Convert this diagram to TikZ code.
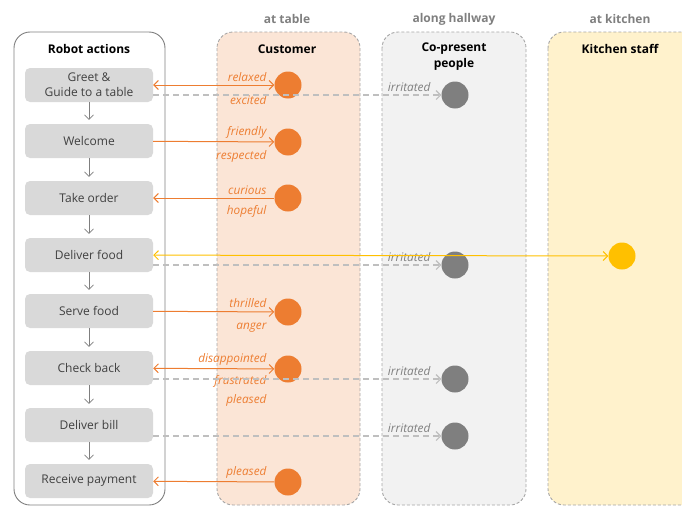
\documentclass[tikz,border=0pt]{standalone}
\usepackage{fontspec}
\setmainfont{Open Sans}
\usetikzlibrary{arrows.meta}
\definecolor{peach}{HTML}{FBE5D6}
\definecolor{hallgrey}{HTML}{F2F2F2}
\definecolor{kitchen}{HTML}{FFF2CC}
\definecolor{orange}{HTML}{ED7D31}
\definecolor{yellow}{HTML}{FFC000}
\definecolor{dotgrey}{HTML}{7F7F7F}
\definecolor{boxgrey}{HTML}{D9D9D9}
\definecolor{lightgrey}{HTML}{BFBFBF}
\definecolor{bordergrey}{HTML}{A6A6A6}
\definecolor{textgrey}{HTML}{404040}

\begin{document}
\begin{tikzpicture}[x=1pt,y=-1pt,>={Straight Barb[length=4.5pt,width=9pt]},
    action/.style={fill=boxgrey, rounded corners=5pt, minimum width=128pt, minimum height=34pt, align=center, text=textgrey, font=\fontsize{12}{15}\selectfont},
    title/.style={font=\bfseries\fontsize{12}{16}\selectfont, align=center},
    place/.style={font=\bfseries\fontsize{12}{15}\selectfont, text=dotgrey},
    zone/.style={draw=bordergrey, dash pattern=on 3pt off 2pt, line width=0.9pt, rounded corners=16pt},
    dot/.style={circle, minimum size=27pt, inner sep=0pt},
    oline/.style={draw=orange, line width=1pt},
    gline/.style={draw=lightgrey, line width=1.1pt, dash pattern=on 6pt off 4pt, ->},
    yline/.style={draw=yellow, line width=1pt},
    down/.style={draw=dotgrey, line width=0.7pt, ->, shorten >=4pt},
    olab/.style={text=orange, font=\itshape\fontsize{11.8}{14}\selectfont},
    glab/.style={text=dotgrey, font=\itshape\fontsize{11.8}{14}\selectfont}]
\clip (0,0) rectangle (682,506);

\draw[draw=dotgrey, line width=0.9pt, rounded corners=16pt] (14,32) rectangle (165,505);
\filldraw[zone, fill=peach] (217,32) rectangle (360,505);
\filldraw[zone, fill=hallgrey] (382,32) rectangle (526,505);
\filldraw[zone, fill=kitchen] (548,32) rectangle (730,505);

\node[place] (attable) at (287,19) {at table};
\node[place] (athall) at (454,19) {along hallway};
\node[place] (atkitchen) at (620,19) {at kitchen};
\node[title] (robot) at (89,49) {Robot actions};
\node[title] (customer) at (287,49) {Customer};
\node[title] (copresent) at (454,57) {Co-present\\people};
\node[title] (staff) at (620,49) {Kitchen staff};

\node[action] (greet) at (89,85) {Greet \&\\Guide to a table};
\node[action] (welcome) at (89,141) {Welcome};
\node[action] (order) at (89,198) {Take order};
\node[action] (deliver) at (89,255) {Deliver food};
\node[action] (serve) at (89,311) {Serve food};
\node[action] (check) at (89,368) {Check back};
\node[action] (bill) at (89,425) {Deliver bill};
\node[action] (pay) at (89,481) {Receive payment};

\draw[down] (greet) -- (welcome);
\draw[down] (welcome) -- (order);
\draw[down] (order) -- (deliver);
\draw[down] (deliver) -- (serve);
\draw[down] (serve) -- (check);
\draw[down] (check) -- (bill);
\draw[down] (bill) -- (pay);

\node[dot, fill=orange] (c1) at (288,85) {};
\node[dot, fill=orange] (c2) at (288,142) {};
\node[dot, fill=orange] (c3) at (288,198) {};
\node[dot, fill=orange] (c4) at (288,312) {};
\node[dot, fill=orange] (c5) at (288,369) {};
\node[dot, fill=orange] (c6) at (288,482) {};

\node[dot, fill=dotgrey] (g1) at (455,95) {};
\node[dot, fill=dotgrey] (g2) at (455,265) {};
\node[dot, fill=dotgrey] (g3) at (455,379) {};
\node[dot, fill=dotgrey] (g4) at (455,436) {};

\node[dot, fill=yellow] (k1) at (622,256) {};

\draw[oline, <->] (greet) -- (c1)
    node[olab, pos=1, anchor=south east, xshift=-4pt] {relaxed}
    node[olab, pos=1, anchor=north east, xshift=-4pt, yshift=-7pt] {excited};
\draw[oline, ->] (welcome) -- (c2)
    node[olab, pos=1, anchor=south east, xshift=-4pt] {friendly}
    node[olab, pos=1, anchor=north east, xshift=-4pt, yshift=-5pt] {respected};
\draw[oline, <-] (order) -- (c3)
    node[olab, pos=1, anchor=south east, xshift=-4pt] {curious}
    node[olab, pos=1, anchor=north east, xshift=-4pt, yshift=-4pt] {hopeful};
\draw[oline, ->] (serve) -- (c4)
    node[olab, pos=1, anchor=south east, xshift=-4pt] {thrilled}
    node[olab, pos=1, anchor=north east, xshift=-4pt, yshift=-7pt] {anger};
\draw[oline, <->] (check) -- (c5)
    node[olab, pos=1, anchor=south east, xshift=-4pt] {disappointed}
    node[olab, pos=1, anchor=north east, xshift=-4pt, yshift=-3pt] {frustrated}
    node[olab, pos=1, anchor=north east, xshift=-4pt, yshift=-22pt] {pleased};
\draw[oline, <-] (pay) -- (c6)
    node[olab, pos=1, anchor=south east, xshift=-4pt] {pleased};

\draw[gline] (g1 -| greet.east) -- (g1)
    node[glab, pos=1, anchor=south east, xshift=-7pt] {irritated};
\draw[gline] (g2 -| deliver.east) -- (g2)
    node[glab, pos=1, anchor=south east, xshift=-7pt] {irritated};
\draw[gline] (g3 -| check.east) -- (g3)
    node[glab, pos=1, anchor=south east, xshift=-7pt] {irritated};
\draw[gline] (g4 -| bill.east) -- (g4)
    node[glab, pos=1, anchor=south east, xshift=-7pt] {irritated};

\draw[yline, <->] (deliver) -- (k1);
\end{tikzpicture}
\end{document}
